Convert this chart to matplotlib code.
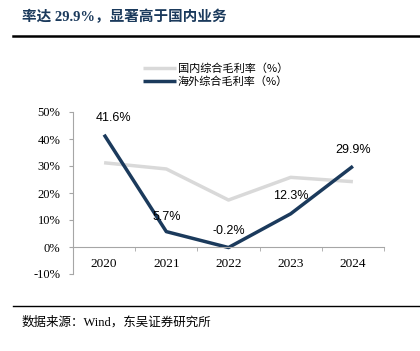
import matplotlib.pyplot as plt
from matplotlib.lines import Line2D

years = ['2020', '2021', '2022', '2023', '2024']
domestic = [31.2, 28.9, 17.4, 25.8, 24.2]
overseas = [41.6, 5.7, -0.2, 12.3, 29.9]
overseas_labels = ['41.6%', '5.7%', '-0.2%', '12.3%', '29.9%']
yticks = [-10, 0, 10, 20, 30, 40, 50]

cjk = ['Noto Sans CJK SC', 'DejaVu Sans']
serif_cjk = ['Liberation Serif', 'Noto Sans CJK SC']
navy = '#1b3a5c'
gray = '#d9d9d9'

fig = plt.figure(figsize=(4.2, 3.51), dpi=100)

# titulo y lineas horizontales
fig.text(22 / 420, 1 - 17 / 351, '率达 29.9%，显著高于国内业务', family=serif_cjk,
         fontsize=10.5, fontweight='bold', color=navy, va='center', ha='left')
fig.add_artist(Line2D([13 / 420, 1], [1 - 36 / 351] * 2, color='black', lw=1.8))
fig.add_artist(Line2D([13 / 420, 1], [1 - 306 / 351] * 2, color='black', lw=1.0))
fig.text(22 / 420, 1 - 322 / 351, '数据来源：Wind，东吴证券研究所', family=serif_cjk,
         fontsize=9, color='black', va='center', ha='left')

ax = fig.add_axes([73 / 420, 1 - 274 / 351, (384 - 73) / 420, (274 - 112) / 351])
ax.spines['top'].set_visible(False)
ax.spines['right'].set_visible(False)
ax.spines['left'].set_color('#a6a6a6')
ax.spines['bottom'].set_color('#a6a6a6')
ax.spines['bottom'].set_position(('data', 0))

x = list(range(len(years)))
ax.plot(x, domestic, color=gray, lw=2.5, label='国内综合毛利率（%）', solid_capstyle='butt')
ax.plot(x, overseas, color=navy, lw=2.5, label='海外综合毛利率（%）', solid_capstyle='butt')

offsets = [(0.15, 6.0), (0.0, 5.5), (0, 6.0), (0, 6.5), (0, 6.2)]
for i, (v, lab) in enumerate(zip(overseas, overseas_labels)):
    dx, dy = offsets[i]
    ax.text(i + dx, v + dy, lab, family='Liberation Sans', fontsize=9, ha='center', va='center')

ax.set_xlim(-0.5, 4.5)
ax.set_ylim(-10, 50)
ax.set_yticks(yticks)
ax.set_yticklabels([f'{t}%' for t in yticks], family='Liberation Serif', fontsize=9)
ax.set_xticks(x)
ax.set_xticklabels(years, family='Liberation Serif', fontsize=9.5)
ax.set_xticks([i - 0.5 for i in range(len(years) + 1)], minor=True)
ax.tick_params(axis='x', which='major', length=0, pad=8)
ax.tick_params(axis='x', which='minor', length=3, color='#a6a6a6', direction='out')
ax.tick_params(axis='y', length=3, color='#a6a6a6', pad=6)

leg = ax.legend(loc='upper left', bbox_to_anchor=(0.21, 1.33), frameon=False,
                prop={'family': cjk, 'size': 8}, handlelength=3.0, handletextpad=0.15,
                labelspacing=0.25, borderaxespad=0)

fig.savefig('out.png', dpi=100)
